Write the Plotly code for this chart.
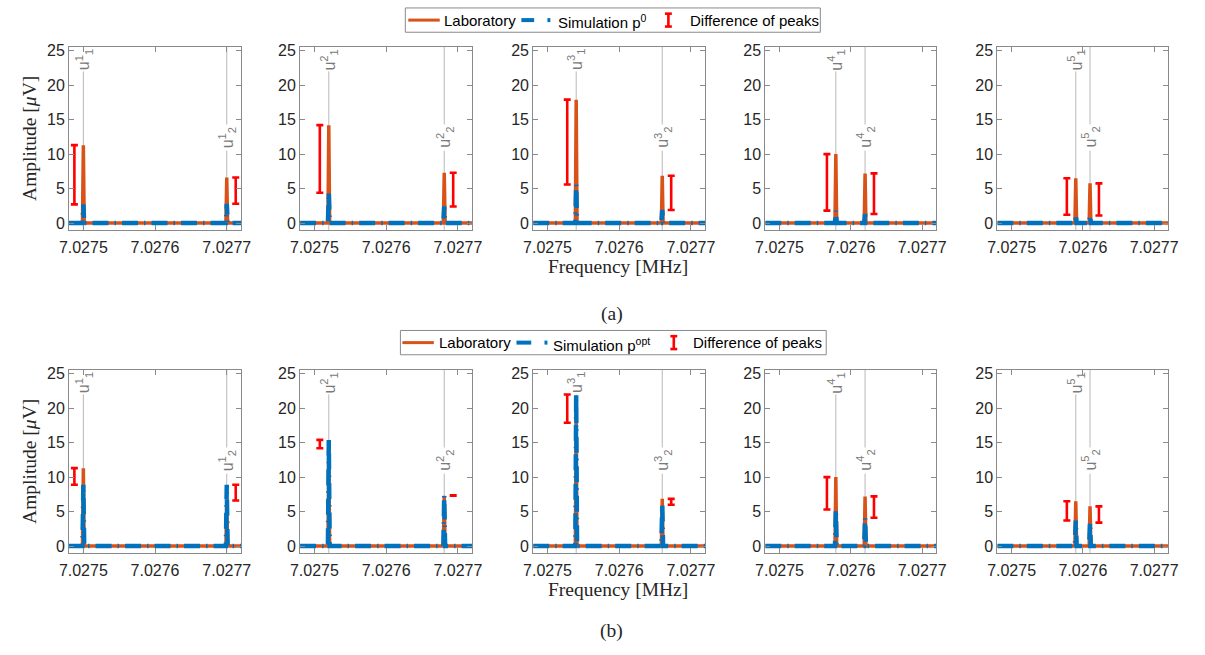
import plotly.graph_objects as go

W, H = 1205, 655

# ---------------- data ----------------
freq_min, freq_max = 7.02748, 7.02772          # sweep range [MHz]
x_tick_vals = [7.0275, 7.0276, 7.0277]
x_tick_text = ["7.0275", "7.0276", "7.0277"]
y_tick_vals = [0, 5, 10, 15, 20, 25]

experiments = [1, 2, 3, 4, 5]
f_u1 = [7.02750, 7.02752, 7.02754, 7.027579, 7.02759]   # peak frequency of u_1^k
f_u2 = [7.02770, 7.027681, 7.02766, 7.02762, 7.02761]   # peak frequency of u_2^k

lab_u1 = [11.3, 14.2, 17.9, 10.0, 6.5]
lab_u2 = [6.6, 7.3, 6.85, 7.2, 5.75]
sim0_u1 = [2.7, 4.4, 5.6, 1.8, 1.2]
sim0_u2 = [2.8, 2.4, 1.9, 1.3, 1.1]
simopt_u1 = [8.9, 15.4, 22.0, 5.3, 3.7]
simopt_u2 = [8.9, 7.38, 6.0, 4.1, 3.4]

# ---------------- style ----------------
ORANGE = "#D95319"
BLUE = "#0072BD"
RED = "#FF0000"
AXCOL = "#8a8a8a"
TXT = "#262626"
SANS = "Liberation Sans, Arial, sans-serif"
SERIF = "Liberation Serif, Times New Roman, serif"
SIM_DASH = "16px,6px,1.5px,6px"

col_px = [(60, 235), (295, 470), (532, 707), (768, 942), (1004, 1178)]
row_px = [(43, 228), (369, 554)]
y_range = [-1, 25.6]
half_w = 1.2e-6      # half width of a spectral line
bar_off = 1.25e-5    # horizontal offset of the difference bars


def px(x):
    return x / W


def py(y):
    return 1 - y / H


fig = go.Figure()
shapes = []
annotations = []
layout_axes = {}

rows = [
    dict(sim_u1=sim0_u1, sim_u2=sim0_u2),
    dict(sim_u1=simopt_u1, sim_u2=simopt_u2),
]

for r, row in enumerate(rows):
    for c, k in enumerate(experiments):
        idx = r * 5 + c + 1
        xa = "x" if idx == 1 else f"x{idx}"
        ya = "y" if idx == 1 else f"y{idx}"
        f1, f2 = f_u1[c], f_u2[c]
        xs = [freq_min, f1 - half_w, f1, f1 + half_w, f2 - half_w, f2, f2 + half_w, freq_max]
        lab_y = [0, 0, lab_u1[c], 0, 0, lab_u2[c], 0, 0]
        s1, s2 = row["sim_u1"][c], row["sim_u2"][c]
        sim_y = [0, 0, s1, 0, 0, s2, 0, 0]

        fig.add_trace(go.Scatter(x=xs, y=lab_y, mode="lines", xaxis=xa, yaxis=ya,
                                 line=dict(color=ORANGE, width=3.5), showlegend=False,
                                 hoverinfo="skip"))
        fig.add_trace(go.Scatter(x=xs, y=sim_y, mode="lines", xaxis=xa, yaxis=ya,
                                 line=dict(color=BLUE, width=4.5, dash=SIM_DASH),
                                 showlegend=False, hoverinfo="skip"))
        # difference of peaks
        lo = [min(lab_u1[c], s1), min(lab_u2[c], s2)]
        hi = [max(lab_u1[c], s1), max(lab_u2[c], s2)]
        mid = [(a + b) / 2 for a, b in zip(lo, hi)]
        half = [(b - a) / 2 for a, b in zip(lo, hi)]
        fig.add_trace(go.Scatter(x=[f1 - bar_off, f2 + bar_off], y=mid, mode="markers",
                                 xaxis=xa, yaxis=ya,
                                 marker=dict(size=1, color="rgba(0,0,0,0)"),
                                 error_y=dict(type="data", array=half, symmetric=True,
                                              color=RED, thickness=2.6, width=3.5),
                                 showlegend=False, hoverinfo="skip"))

        # xlines with labels
        lc = "#b8b8b8"
        shapes.append(dict(type="line", xref=xa, yref=ya, x0=f1, x1=f1, y0=y_range[0], y1=22.0,
                           line=dict(color=lc, width=1), layer="below"))
        shapes.append(dict(type="line", xref=xa, yref=ya, x0=f2, x1=f2, y0=y_range[0], y1=10.5,
                           line=dict(color=lc, width=1), layer="below"))
        shapes.append(dict(type="line", xref=xa, yref=ya, x0=f2, x1=f2, y0=14.3, y1=y_range[1],
                           line=dict(color=lc, width=1), layer="below"))
        annotations.append(dict(xref=xa, yref=ya, x=f1, y=25.5, textangle=-90,
                                text=f"u<sup>{k}</sup><sub>1</sub>", showarrow=False,
                                xanchor="center", yanchor="top",
                                font=dict(family=SANS, size=16, color="#7a7a7a")))
        annotations.append(dict(xref=xa, yref=ya, x=f2, y=12.4, textangle=-90,
                                text=f"u<sup>{k}</sup><sub>2</sub>", showarrow=False,
                                xanchor="center", yanchor="middle",
                                font=dict(family=SANS, size=16, color="#7a7a7a")))

        x0, x1 = col_px[c]
        yt, yb = row_px[r]
        layout_axes["xaxis" if idx == 1 else f"xaxis{idx}"] = dict(
            domain=[px(x0), px(x1)], anchor=ya, range=[freq_min, freq_max],
            tickvals=x_tick_vals, ticktext=x_tick_text, ticks="inside", ticklen=5,
            tickcolor=AXCOL, showline=True, linecolor=AXCOL, linewidth=1, mirror="ticks",
            showgrid=False, zeroline=False, ticklabelstandoff=3,
            tickfont=dict(family=SANS, size=16, color=TXT))
        layout_axes["yaxis" if idx == 1 else f"yaxis{idx}"] = dict(
            domain=[py(yb), py(yt)], anchor=xa, range=y_range,
            tickvals=y_tick_vals, ticks="inside", ticklen=5,
            tickcolor=AXCOL, showline=True, linecolor=AXCOL, linewidth=1, mirror="ticks",
            showgrid=False, zeroline=False,
            tickfont=dict(family=SANS, size=16, color=TXT))

# axis titles and panel captions
for r, (yt, yb) in enumerate(row_px):
    annotations.append(dict(xref="paper", yref="paper", x=px(20), y=py((yt + yb) / 2),
                            text="Amplitude [<i>μ</i>V]", textangle=-90, showarrow=False,
                            xanchor="center", yanchor="middle",
                            font=dict(family=SERIF, size=19.5, color=TXT)))
    annotations.append(dict(xref="paper", yref="paper", x=px(618), y=py(yb + 37),
                            text="Frequency [MHz]", showarrow=False,
                            xanchor="center", yanchor="middle",
                            font=dict(family=SERIF, size=19.5, color=TXT)))
annotations.append(dict(xref="paper", yref="paper", x=px(612), y=py(313), text="(a)",
                        showarrow=False, xanchor="center", yanchor="middle",
                        font=dict(family=SERIF, size=19.5, color=TXT)))
annotations.append(dict(xref="paper", yref="paper", x=px(612), y=py(633), text="(b)",
                        showarrow=False, xanchor="center", yanchor="middle",
                        font=dict(family=SERIF, size=19.5, color=TXT)))

# custom legends
legends = [
    dict(box=(402, 824, 4, 28.5), lab=(405, 437, 439), sim=(520, 533, 548, 555),
         simtext="Simulation p<sup>0</sup>", bar=669.5, diff=689),
    dict(box=(397, 830, 329.5, 354), lab=(399, 431, 434), sim=(515, 530, 545, 550),
         simtext="Simulation p<sup>opt</sup>", bar=675, diff=693),
]
for lg in legends:
    bx0, bx1, by0, by1 = lg["box"]
    yc = (by0 + by1) / 2
    shapes.append(dict(type="rect", xref="paper", yref="paper", x0=px(bx0), x1=px(bx1),
                       y0=py(by1), y1=py(by0), line=dict(color=AXCOL, width=1),
                       fillcolor="white"))
    l0, l1, lt = lg["lab"]
    shapes.append(dict(type="line", xref="paper", yref="paper", x0=px(l0), x1=px(l1),
                       y0=py(yc), y1=py(yc), line=dict(color=ORANGE, width=3)))
    annotations.append(dict(xref="paper", yref="paper", x=px(lt), y=py(yc), text="Laboratory",
                            showarrow=False, xanchor="left", yanchor="middle",
                            font=dict(family=SANS, size=15, color="black")))
    s0, s1, sd, st = lg["sim"]
    shapes.append(dict(type="line", xref="paper", yref="paper", x0=px(s0), x1=px(s1),
                       y0=py(yc), y1=py(yc), line=dict(color=BLUE, width=4)))
    shapes.append(dict(type="line", xref="paper", yref="paper", x0=px(sd - 1.5), x1=px(sd + 1.5),
                       y0=py(yc), y1=py(yc), line=dict(color=BLUE, width=4)))
    annotations.append(dict(xref="paper", yref="paper", x=px(st), y=py(yc + 1.5), text=lg["simtext"],
                            showarrow=False, xanchor="left", yanchor="middle",
                            font=dict(family=SANS, size=15, color="black")))
    b = lg["bar"]
    shapes.append(dict(type="line", xref="paper", yref="paper", x0=px(b), x1=px(b),
                       y0=py(yc + 6.5), y1=py(yc - 6.5), line=dict(color=RED, width=2.6)))
    for yy in (yc - 6.5, yc + 6.5):
        shapes.append(dict(type="line", xref="paper", yref="paper", x0=px(b - 3.5), x1=px(b + 3.5),
                           y0=py(yy), y1=py(yy), line=dict(color=RED, width=2.6)))
    annotations.append(dict(xref="paper", yref="paper", x=px(lg["diff"]), y=py(yc),
                            text="Difference of peaks", showarrow=False, xanchor="left",
                            yanchor="middle", font=dict(family=SANS, size=15, color="black")))

fig.update_layout(width=W, height=H, margin=dict(l=0, r=0, t=0, b=0),
                  paper_bgcolor="white", plot_bgcolor="white", showlegend=False,
                  shapes=shapes, annotations=annotations, **layout_axes)

fig.write_html("out.html")
